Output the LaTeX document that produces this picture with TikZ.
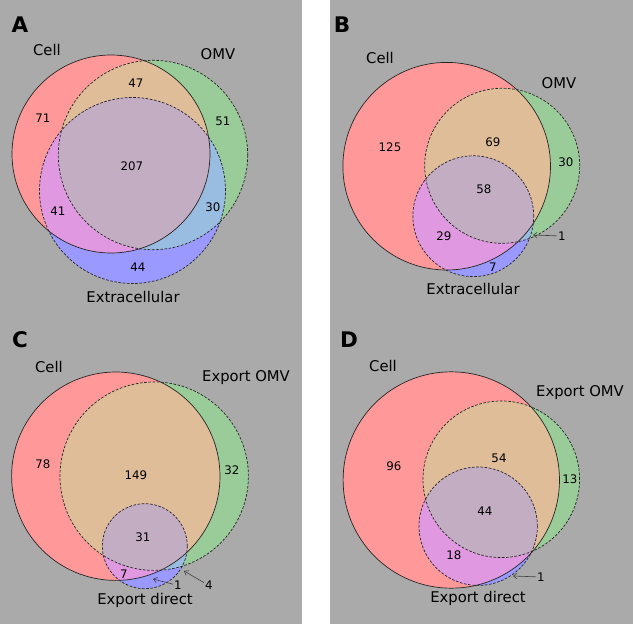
\documentclass[tikz,border=0pt]{standalone}
\usepackage{fontspec}
\setmainfont{DejaVu Sans}
\usepackage{xcolor}
\usetikzlibrary{arrows.meta}

\definecolor{panelgray}{HTML}{AAAAAA}
\definecolor{cellonly}{HTML}{FF9999}
\definecolor{omvonly}{HTML}{99CC99}
\definecolor{extonly}{HTML}{9999FF}
\definecolor{cellomv}{HTML}{E0BD99}
\definecolor{cellext}{HTML}{E099E0}
\definecolor{omvext}{HTML}{99BDE0}
\definecolor{allthree}{HTML}{C2ADC2}

% three circles: cell, omv, extracellular (x, y, radius each)
\newcommand{\drawvenn}[9]{%
    \fill[cellonly] (#1,#2) circle[radius=#3pt];
    \fill[omvonly] (#4,#5) circle[radius=#6pt];
    \fill[extonly] (#7,#8) circle[radius=#9pt];
    \begin{scope}
        \clip (#4,#5) circle[radius=#6pt];
        \fill[omvext] (#7,#8) circle[radius=#9pt];
    \end{scope}
    \begin{scope}
        \clip (#1,#2) circle[radius=#3pt];
        \fill[cellomv] (#4,#5) circle[radius=#6pt];
        \fill[cellext] (#7,#8) circle[radius=#9pt];
        \clip (#4,#5) circle[radius=#6pt];
        \fill[allthree] (#7,#8) circle[radius=#9pt];
    \end{scope}
    \draw[cellline] (#1,#2) circle[radius=#3pt];
    \draw[dashline] (#4,#5) circle[radius=#6pt];
    \draw[dashline] (#7,#8) circle[radius=#9pt];
}

\begin{document}
\begin{tikzpicture}[x=1pt, y=-1pt,
    cellline/.style = {draw=black!85, line width=0.7pt},
    dashline/.style = {draw=black!85, line width=0.7pt,
        dash pattern=on 2.6pt off 1.6pt},
    num/.style = {inner sep=1.5pt, font=\fontsize{11.8}{14}\selectfont},
    lab/.style = {inner sep=0pt, font=\fontsize{14.8}{17}\selectfont},
    tag/.style = {inner sep=0pt, font=\fontsize{21.5}{24}\selectfont\bfseries},
    ptr/.style = {draw=black!75, line width=0.6pt,
        -{Straight Barb[length=3.5pt, width=5.5pt]}}]
    \useasboundingbox (0,0) rectangle (633,624);
    \fill[white] (0,0) rectangle (633,624);
    \fill[panelgray] (0,0) rectangle (302,624);
    \fill[panelgray] (330,0) rectangle (633,624);

    % A
    \drawvenn{111}{154}{99}{153}{155}{94.7}{132.5}{190.5}{93}
    \node[tag] (tagA) at (20,25) {A};
    \node[lab] (cellA) at (47,50) {Cell};
    \node[lab] (omvA) at (218,54) {OMV};
    \node[lab] (extA) at (133,297) {Extracellular};
    \node[num] (a100) at (43,118) {71};
    \node[num] (a110) at (136,83) {47};
    \node[num] (a010) at (223,121) {51};
    \node[num] (a111) at (132,166) {207};
    \node[num] (a101) at (58,211) {41};
    \node[num] (a011) at (213,207) {30};
    \node[num] (a001) at (138,267) {44};

    % B
    \drawvenn{446.7}{166.2}{103.8}{502.2}{165.8}{77.5}{473.3}{216.2}{60.4}
    \node[tag] (tagB) at (342,25) {B};
    \node[lab] (cellB) at (380,58) {Cell};
    \node[lab] (omvB) at (559,83) {OMV};
    \node[lab] (extB) at (473,289) {Extracellular};
    \node[num] (b100) at (390,147) {125};
    \node[num] (b110) at (493,142) {69};
    \node[num] (b010) at (566,162) {30};
    \node[num] (b111) at (484,189) {58};
    \node[num] (b101) at (444,236) {29};
    \node[num] (b001) at (493,267) {7};
    \node[num] (b011) at (562,236) {1};
    \coordinate (b011tip) at (533,235);
    \draw[ptr] (b011) -- (b011tip);

    % C
    \drawvenn{115.8}{476.2}{104.2}{154.2}{476.2}{94.2}{144.8}{546.2}{42.5}
    \node[tag] (tagC) at (20,340) {C};
    \node[lab] (cellC) at (49,367) {Cell};
    \node[lab] (omvC) at (246,378) {Export OMV};
    \node[lab] (extC) at (145,600) {Export direct};
    \node[num] (c100) at (43,464) {78};
    \node[num] (c110) at (136,475) {149};
    \node[num] (c010) at (232,470) {32};
    \node[num] (c111) at (143,537) {31};
    \node[num] (c101) at (124,574) {7};
    \node[num, inner sep=1pt] (c001) at (178,585.5) {1};
    \node[num, inner sep=1pt] (c011) at (209,585.5) {4};
    \coordinate (c001tip) at (153,579);
    \coordinate (c011tip) at (184,571);
    \draw[ptr] (c001) -- (c001tip);
    \draw[ptr] (c011) -- (c011tip);

    % D
    \drawvenn{451.3}{480}{108.2}{501.3}{479.3}{78.3}{478.2}{526.2}{59.2}
    \node[tag] (tagD) at (349,340) {D};
    \node[lab] (cellD) at (383,366) {Cell};
    \node[lab] (omvD) at (580,393) {Export OMV};
    \node[lab] (extD) at (478,598) {Export direct};
    \node[num] (d100) at (394,466) {96};
    \node[num] (d110) at (499,458) {54};
    \node[num] (d010) at (570,479) {13};
    \node[num] (d111) at (485,511) {44};
    \node[num] (d101) at (454,555) {18};
    \node[num] (d001) at (541,577) {1};
    \coordinate (d001tip) at (513,576);
    \draw[ptr] (d001) -- (d001tip);
\end{tikzpicture}
\end{document}
